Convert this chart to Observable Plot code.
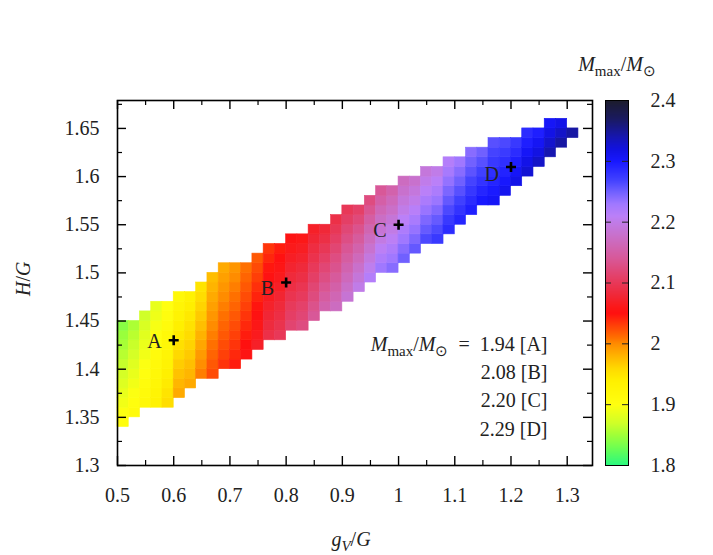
<!DOCTYPE html>
<html><head><meta charset="utf-8">
<script src="https://cdn.jsdelivr.net/npm/d3@7"></script>
<script src="https://cdn.jsdelivr.net/npm/@observablehq/plot@0.6"></script>
<style>
body{margin:0;background:#fff;}
#wrap{position:relative;width:713px;height:555px;}
#wrap svg{position:absolute;left:0;top:0;}
</style></head><body><div id="wrap"></div>
<script>
// ---- data ----
// grid columns (left edge of each column, width 0.02) and the bottom edge of the band (rows of 0.01)
const colX0 = [0.50,0.52,0.54,0.56,0.58,0.60,0.62,0.64,0.66,0.68,0.70,0.72,0.74,0.76,0.78,0.80,0.82,0.84,0.86,0.88,0.90,0.92,0.94,0.96,0.98,1.00,1.02,1.04,1.06,1.08,1.10,1.12,1.14,1.16,1.18,1.20,1.22,1.24,1.26,1.28,1.30];
const colBottom = [1.34,1.35,1.36,1.36,1.36,1.37,1.38,1.39,1.39,1.40,1.40,1.41,1.42,1.43,1.43,1.44,1.44,1.45,1.46,1.46,1.47,1.48,1.49,1.50,1.50,1.51,1.52,1.53,1.53,1.54,1.55,1.56,1.57,1.57,1.58,1.59,1.60,1.61,1.62,1.63,1.64];
// M_max/M_sun in each cell of a column, from bottom to top
const colValues = [
 [1.905,1.899,1.892,1.886,1.879,1.873,1.866,1.860,1.853,1.847,1.840],
 [1.910,1.904,1.898,1.892,1.886,1.880,1.873,1.867,1.861,1.855],
 [1.920,1.914,1.909,1.903,1.898,1.892,1.887,1.881,1.876,1.870],
 [1.935,1.930,1.925,1.920,1.915,1.910,1.905,1.900,1.895,1.890,1.885],
 [1.955,1.950,1.944,1.939,1.933,1.928,1.922,1.917,1.911,1.906,1.900],
 [1.985,1.979,1.972,1.966,1.959,1.953,1.946,1.940,1.933,1.927,1.920],
 [1.985,1.979,1.974,1.968,1.963,1.957,1.952,1.946,1.941,1.935],
 [2.005,1.999,1.993,1.987,1.981,1.974,1.968,1.962,1.956,1.950],
 [2.025,2.020,2.015,2.010,2.005,2.000,1.995,1.990,1.985,1.980,1.975],
 [2.035,2.030,2.025,2.020,2.015,2.010,2.005,2.000,1.995,1.990,1.985],
 [2.045,2.040,2.035,2.030,2.025,2.020,2.015,2.010,2.005,2.000,1.995],
 [2.055,2.050,2.045,2.040,2.035,2.030,2.025,2.020,2.015,2.010],
 [2.070,2.064,2.059,2.053,2.048,2.042,2.037,2.031,2.026,2.020],
 [2.090,2.084,2.078,2.072,2.066,2.059,2.053,2.047,2.041,2.035],
 [2.100,2.094,2.088,2.082,2.076,2.069,2.063,2.057,2.051,2.045],
 [2.115,2.108,2.102,2.095,2.088,2.082,2.075,2.068,2.062,2.055],
 [2.125,2.118,2.111,2.103,2.096,2.089,2.082,2.074,2.067,2.060],
 [2.140,2.132,2.124,2.117,2.109,2.101,2.093,2.086,2.078,2.070],
 [2.155,2.146,2.136,2.127,2.118,2.108,2.099,2.089,2.080],
 [2.170,2.161,2.152,2.143,2.134,2.126,2.117,2.108,2.099,2.090],
 [2.185,2.176,2.166,2.157,2.147,2.138,2.128,2.119,2.109,2.100],
 [2.200,2.189,2.178,2.166,2.155,2.144,2.133,2.121,2.110],
 [2.215,2.204,2.193,2.181,2.170,2.159,2.148,2.136,2.125],
 [2.230,2.219,2.208,2.196,2.185,2.174,2.163,2.151,2.140],
 [2.240,2.229,2.219,2.208,2.198,2.187,2.176,2.166,2.155],
 [2.250,2.240,2.230,2.220,2.210,2.200,2.190,2.180,2.170],
 [2.255,2.244,2.234,2.223,2.212,2.201,2.191,2.180],
 [2.265,2.254,2.244,2.233,2.222,2.211,2.201,2.190],
 [2.275,2.264,2.254,2.243,2.232,2.221,2.211,2.200],
 [2.285,2.275,2.265,2.255,2.245,2.235,2.225,2.215],
 [2.290,2.280,2.270,2.260,2.250,2.240,2.230],
 [2.295,2.286,2.277,2.268,2.258,2.249,2.240],
 [2.300,2.290,2.280,2.270,2.260,2.250],
 [2.305,2.298,2.290,2.283,2.275,2.268,2.260],
 [2.310,2.301,2.292,2.283,2.274,2.265],
 [2.315,2.305,2.295,2.285,2.275],
 [2.325,2.315,2.305,2.295,2.285],
 [2.330,2.318,2.307,2.295],
 [2.340,2.328,2.317,2.305],
 [2.345,2.330,2.315],
 [2.345]
];
const gridDX = 0.02, gridDY = 0.01;

// marked models
const pointName = ["A","B","C","D"];
const pointX = [0.6, 0.8, 1.0, 1.2];
const pointY = [1.43, 1.49, 1.55, 1.61];
const pointMass = ["1.94","2.08","2.20","2.29"];

// ticks
const xTicks = [0.5,0.6,0.7,0.8,0.9,1.0,1.1,1.2,1.3];
const xMinor = [0.55,0.65,0.75,0.85,0.95,1.05,1.15,1.25];
const yTicks = [1.3,1.35,1.4,1.45,1.5,1.55,1.6,1.65];
const yMinor = [1.325,1.375,1.425,1.475,1.525,1.575,1.625,1.675];
const cbTicks = [1.8,1.9,2.0,2.1,2.2,2.3,2.4];
const fmt = d => String(+d.toFixed(3));

// colour map (value stops and colours)
const colorStops = [1.80,1.83,1.85,1.87,1.90,1.94,1.96,1.98,2.00,2.01,2.03,2.05,2.06,2.08,2.11,2.14,2.17,2.20,2.21,2.23,2.25,2.27,2.30,2.32,2.34,2.37,2.40];
const colorRange = ["#28f880","#70ff50","#a0ff38","#d0ff28","#ffff10","#fff000","#ffd800","#ffb400","#ff8c00","#ff7000","#ff4008","#ff1010","#fc1818","#f02838","#e44068","#d85898","#cc6cc0","#c07ce8","#bb80f8","#a078ff","#7060ff","#4040ff","#1818ff","#1212e0","#1616b0","#1a1a60","#1c1c2c"];

// ---- rich text labels ----
const massSegs = [["M","i"],["max","s"],["/",""],["M","i"],["⊙","s"]];
const xLabelSegs = [["g","i"],["V","si"],["/",""],["G","i"]];
const yLabelSegs = [["H","i"],["/",""],["G","i"]];
const annotSegs = [...massSegs, ["\u2002=\u2002" + pointMass[0] + " [" + pointName[0] + "]",""]];
const segKey = segs => segs.map(s => s[0]).join("");
const rich = new Map([[segKey(massSegs), massSegs],[segKey(xLabelSegs), xLabelSegs],[segKey(yLabelSegs), yLabelSegs],[segKey(annotSegs), annotSegs]]);
function applyRich(svg){
  svg.querySelectorAll("text").forEach(t => {
    const segs = rich.get(t.textContent);
    if (!segs) return;
    while (t.firstChild) t.removeChild(t.firstChild);
    let shift = 0;
    for (const [s, st] of segs){
      const ts = document.createElementNS("http://www.w3.org/2000/svg","tspan");
      ts.textContent = s;
      const sub = st.includes("s");
      const want = sub ? 5 : 0;
      if (want !== shift){ ts.setAttribute("dy", want - shift); shift = want; }
      if (sub) ts.setAttribute("font-size", "15");
      if (st.includes("i")) ts.setAttribute("font-style", "italic");
      t.appendChild(ts);
    }
  });
}

// ---- build ----
const cells = [];
colValues.forEach((vals, i) => vals.forEach((m, j) => {
  const y1 = colBottom[i] + j * gridDY;
  cells.push({x1: colX0[i], x2: colX0[i] + gridDX, y1, y2: y1 + gridDY, m});
}));
const points = pointName.map((n, i) => ({n, x: pointX[i], y: pointY[i]}));

const W = 713, H = 555, mL = 117, mR = 121, mT = 100, mB = 90;
const fW = W - mL - mR, fH = H - mT - mB;
const color = {type: "linear", domain: colorStops, range: colorRange, interpolate: "rgb"};
const font = {fontFamily: "'Liberation Serif', serif", fontSize: "20px", background: "transparent", overflow: "visible", color: "#000"};

const plusSymbol = {draw(ctx, size){ const r = Math.sqrt(size / Math.PI); ctx.moveTo(-r, 0); ctx.lineTo(r, 0); ctx.moveTo(0, -r); ctx.lineTo(0, r); }};
const labelDy = [1, 6, 6, 8];

const main = Plot.plot({
  width: W, height: H, marginLeft: mL, marginRight: mR, marginTop: mT, marginBottom: mB,
  style: font,
  x: {domain: [0.5, 1.345]},
  y: {domain: [1.3, 1.679]},
  color,
  marks: [
    Plot.rect(cells, {x1: "x1", x2: "x2", y1: "y1", y2: "y2", fill: "m", stroke: "m", strokeWidth: 0.6}),
    Plot.ruleX(xTicks, {insetTop: fH - 9, stroke: "#000", strokeWidth: 1.4}),
    Plot.ruleX(xTicks, {insetBottom: fH - 9, stroke: "#000", strokeWidth: 1.4}),
    Plot.ruleX(xMinor, {insetTop: fH - 5, stroke: "#000", strokeWidth: 1.2}),
    Plot.ruleX(xMinor, {insetBottom: fH - 5, stroke: "#000", strokeWidth: 1.2}),
    Plot.ruleY(yTicks, {insetRight: fW - 9, stroke: "#000", strokeWidth: 1.4}),
    Plot.ruleY(yTicks, {insetLeft: fW - 9, stroke: "#000", strokeWidth: 1.4}),
    Plot.ruleY(yMinor, {insetRight: fW - 5, stroke: "#000", strokeWidth: 1.2}),
    Plot.ruleY(yMinor, {insetLeft: fW - 5, stroke: "#000", strokeWidth: 1.2}),
    Plot.frame({stroke: "#000", strokeWidth: 1.6}),
    Plot.axisX(xTicks, {tickSize: 0, tickPadding: 22, label: null, fill: "#222", tickFormat: fmt}),
    Plot.axisY(yTicks, {tickSize: 0, tickPadding: 18, label: null, fill: "#222", tickFormat: fmt}),
    Plot.dot(points, {x: "x", y: "y", symbol: plusSymbol, r: 5, stroke: "#000", fill: "none", strokeWidth: 2.6}),
    ...points.map((p, i) => Plot.text([p], {x: "x", y: "y", text: "n", textAnchor: "end", dx: -12, dy: labelDy[i], fill: "#222"})),
    Plot.text([segKey(annotSegs)], {frameAnchor: "bottom-right", textAnchor: "end", dx: -45, dy: -115, fill: "#222"}),
    ...pointName.slice(1).map((n, i) => Plot.text([pointMass[i + 1] + " [" + n + "]"], {frameAnchor: "bottom-right", textAnchor: "end", dx: -45, dy: -87 + 28.5 * i, fill: "#222"})),
    Plot.text([segKey(xLabelSegs)], {frameAnchor: "bottom", dy: 80, dx: -4, fill: "#222"}),
    Plot.text([segKey(yLabelSegs)], {frameAnchor: "left", dx: -94, dy: 13, rotate: -90, fill: "#222"})
  ]
});

const cbL = 605, cbR = 628;
const cbar = Plot.plot({
  width: W, height: H, marginLeft: cbL, marginRight: W - cbR, marginTop: mT, marginBottom: mB,
  style: font,
  x: {domain: [0, 1], axis: null},
  y: {domain: [1.8, 2.4]},
  color,
  marks: [
    Plot.raster({fill: (x, y) => y, x1: 0, x2: 1, y1: 1.8, y2: 2.4, width: 2, height: fH}),
    Plot.ruleY(cbTicks.slice(1, -1), {insetRight: 17, stroke: "#222", strokeWidth: 1}),
    Plot.ruleY(cbTicks.slice(1, -1), {insetLeft: 17, stroke: "#222", strokeWidth: 1}),
    Plot.frame({stroke: "#000", strokeWidth: 1}),
    Plot.axisY(cbTicks, {anchor: "right", tickSize: 0, tickPadding: 22, label: null, fill: "#222", tickFormat: fmt}),
    Plot.text([segKey(massSegs)], {frameAnchor: "top", dy: -44, dx: 0, fill: "#222"})
  ]
});

const wrap = document.getElementById("wrap");
wrap.appendChild(main);
wrap.appendChild(cbar);
applyRich(main);
applyRich(cbar);
</script>
</body></html>
